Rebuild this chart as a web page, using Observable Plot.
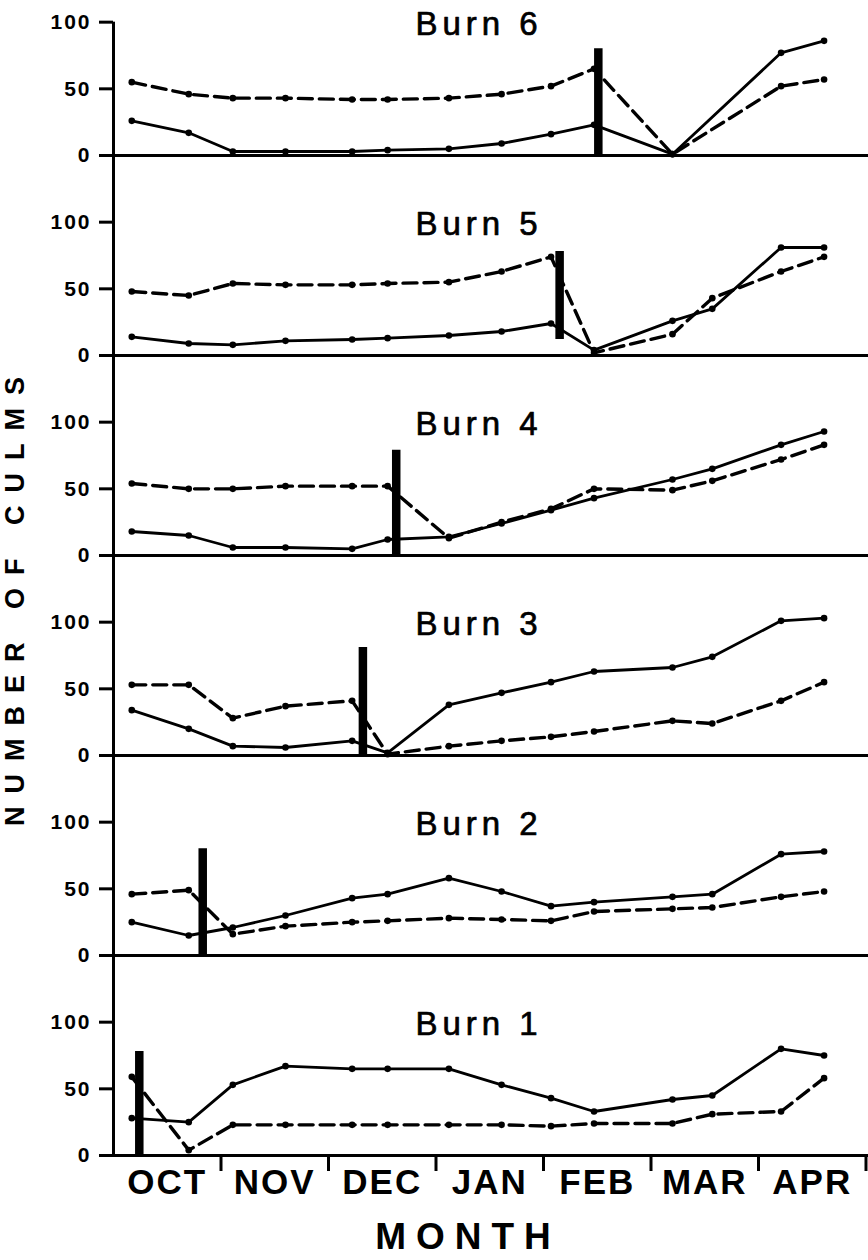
<!DOCTYPE html>
<html>
<head>
<meta charset="utf-8">
<script src="https://cdn.jsdelivr.net/npm/d3@7"></script>
<script src="https://cdn.jsdelivr.net/npm/@observablehq/plot@0.6"></script>
<style>
  html, body { margin: 0; padding: 0; background: #fff; }
  #wrap { position: relative; width: 868px; height: 1260px; overflow: hidden; background: #fff;
          font-family: "Liberation Sans", Arial, Helvetica, sans-serif; color: #000; }
  #chart svg { position: absolute; left: 0; top: -47px; }
  #ylab { position: absolute; left: -245px; top: 580px; width: 520px; height: 30px; line-height: 30px;
          font-size: 27px; font-weight: bold; letter-spacing: 13px; text-align: center;
          transform: rotate(-90deg); white-space: nowrap; }
  #xlab { position: absolute; left: 268px; top: 1219px; width: 400px; line-height: 36px;
          font-size: 37px; font-weight: bold; letter-spacing: 10px; text-align: center; }
  svg [aria-label="x-axis tick label"] text { letter-spacing: 2px; }
  svg [aria-label="y-axis tick label"] text { letter-spacing: 2px; }
  svg .burn-title text { letter-spacing: 5px; }
</style>
</head>
<body>
<div id="wrap">
  <div id="chart"></div>
  <div id="ylab">NUMBER OF CULMS</div>
  <div id="xlab">MONTH</div>
</div>
<script>
// ---- data ----
const months = ["OCT", "NOV", "DEC", "JAN", "FEB", "MAR", "APR"];
const panels = ["Burn 6", "Burn 5", "Burn 4", "Burn 3", "Burn 2", "Burn 1"];
const yTicks = [0, 50, 100];
const yMax = 150;

// sampling dates, in months after 1 October
const sampleDates = [0.17, 0.70, 1.11, 1.60, 2.22, 2.55, 3.12, 3.61, 4.07, 4.47, 5.20, 5.57, 6.21, 6.61];

// number of culms, solid line
const solidBurn6 = [26, 17, 3, 3, 3, 4, 5, 9, 16, 23, 1, null, 77, 86];
const solidBurn5 = [14, 9, 8, 11, 12, 13, 15, 18, 24, 4, 26, 35, 81, 81];
const solidBurn4 = [18, 15, 6, 6, 5, 12, 14, 24, 34, 43, 57, 65, 83, 93];
const solidBurn3 = [34, 20, 7, 6, 11, 2, 38, 47, 55, 63, 66, 74, 101, 103];
const solidBurn2 = [25, 15, 21, 30, 43, 46, 58, 48, 37, 40, 44, 46, 76, 78];
const solidBurn1 = [28, 25, 53, 67, 65, 65, 65, 53, 43, 33, 42, 45, 80, 75];

// number of culms, dashed line
const dashedBurn6 = [55, 46, 43, 43, 42, 42, 43, 46, 52, 65, 1, null, 52, 57];
const dashedBurn5 = [48, 45, 54, 53, 53, 54, 55, 63, 74, 2, 16, 43, 63, 74];
const dashedBurn4 = [54, 50, 50, 52, 52, 52, 13, 25, 35, 50, 49, 56, 72, 83];
const dashedBurn3 = [53, 53, 28, 37, 41, 1, 7, 11, 14, 18, 26, 24, 41, 55];
const dashedBurn2 = [46, 49, 16, 22, 25, 26, 28, 27, 26, 33, 35, 36, 44, 48];
const dashedBurn1 = [59, 4, 23, 23, 23, 23, 23, 23, 22, 24, 24, 31, 33, 58];

// burn date markers (bars)
const burnDates  = [4.51, 4.15, 2.63, 2.32, 0.83, 0.24];
const burnBarLow = [0, 12, 0, 0, 0, 0];
const burnBarHigh = [80, 78, 79, 81, 80, 78];

// ---- tables built from the arrays ----
const solidSeries = [solidBurn6, solidBurn5, solidBurn4, solidBurn3, solidBurn2, solidBurn1];
const dashedSeries = [dashedBurn6, dashedBurn5, dashedBurn4, dashedBurn3, dashedBurn2, dashedBurn1];

const rows = [];
panels.forEach((panel, i) => {
  sampleDates.forEach((t, j) => {
    const s = solidSeries[i][j], d = dashedSeries[i][j];
    if (s != null) rows.push({panel, series: "solid", t, v: s});
    if (d != null) rows.push({panel, series: "dashed", t, v: d});
  });
});
const bars = panels.map((panel, i) => ({panel, t: burnDates[i], lo: burnBarLow[i], hi: burnBarHigh[i]}));
const axisSpans = panels.map((panel, i) => ({panel, top: i === 0 ? yTicks[yTicks.length - 1] : yMax}));
const monthBounds = d3.range(1, months.length + 1);
const monthMids = months.map((m, i) => i + 0.5);

const chart = Plot.plot({
  width: 868,
  height: 1307,
  marginTop: 0,
  marginBottom: 103,
  marginLeft: 113,
  marginRight: 0,
  style: {fontFamily: "'Liberation Sans', Arial, Helvetica, sans-serif", background: "#fff", color: "#000"},
  x: {domain: [0, months.length], range: [113, 865.5]},
  y: {domain: [0, yMax]},
  fy: {domain: panels, padding: 0, axis: null},
  marks: [
    Plot.ruleY([0], {strokeWidth: 3}),
    Plot.ruleX(axisSpans, {x: 0, y1: 0, y2: "top", fy: "panel", strokeWidth: 3}),
    Plot.axisY(yTicks, {tickSize: 14, tickPadding: 8, strokeWidth: 3, fontSize: 21, fontWeight: "bold", label: null}),
    Plot.axisX(monthBounds, {tickSize: 16, strokeWidth: 3, fill: "none", label: null}),
    Plot.axisX(monthMids, {tickSize: 0, tickPadding: 14, tickFormat: i => months[Math.floor(i)],
                           fontSize: 35, fontWeight: "bold", label: null}),
    Plot.line(rows.filter(d => d.series === "solid"), {x: "t", y: "v", fy: "panel", strokeWidth: 2.8}),
    Plot.line(rows.filter(d => d.series === "dashed"), {x: "t", y: "v", fy: "panel", strokeWidth: 3.4, strokeDasharray: "14,7"}),
    Plot.dot(rows, {x: "t", y: "v", fy: "panel", r: 3.3, fill: "black", stroke: null}),
    Plot.ruleX(bars, {x: "t", y1: "lo", y2: "hi", fy: "panel", strokeWidth: 8.5}),
    Plot.text(panels, {fy: d => d, text: d => d, frameAnchor: "top", dy: 56, dx: -12, fontSize: 33,
                       fill: "black", stroke: "black", strokeWidth: 0.7, className: "burn-title"})
  ]
});
document.getElementById("chart").appendChild(chart);
</script>
</body>
</html>
